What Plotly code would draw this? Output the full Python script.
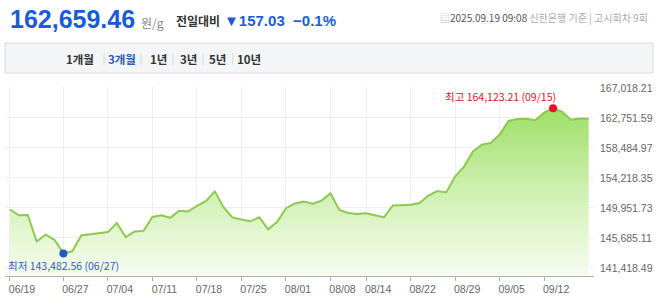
import plotly.graph_objects as go

# ---- data ----
dates = ["06/19", "06/20", "06/23", "06/24", "06/25", "06/26", "06/27", "06/30",
         "07/01", "07/02", "07/03", "07/04", "07/07", "07/08", "07/09", "07/10", "07/11",
         "07/14", "07/15", "07/16", "07/17", "07/18", "07/21", "07/22", "07/23", "07/24", "07/25",
         "07/28", "07/29", "07/30", "07/31", "08/01", "08/04", "08/05", "08/06", "08/07", "08/08",
         "08/11", "08/12", "08/13", "08/14", "08/18", "08/19", "08/20", "08/21", "08/22",
         "08/25", "08/26", "08/27", "08/28", "08/29", "09/01", "09/02", "09/03", "09/04", "09/05",
         "09/08", "09/09", "09/10", "09/11", "09/12", "09/15", "09/16", "09/17", "09/18", "09/19"]
prices = [149730, 148912, 148955, 145181, 146142, 145425, 143482.56, 143789,
          146042, 146185, 146329, 146516, 147807, 145798, 146616, 146688, 148668,
          148912, 148553, 149558, 149443, 150247, 150921, 152313, 150017, 148582, 148295,
          148051, 148625, 146903, 147951, 149916, 150591, 150849, 150562, 150993, 152026,
          149673, 149242, 149084, 149199, 148912, 148625, 150304, 150347, 150419,
          150663, 151710, 152356, 152169, 154408, 155843, 157996, 158957, 159201, 160392,
          162329, 162616, 162645, 162444, 163506, 164123.21, 163649, 162501, 162688, 162659.46]
x_ticks = ["06/19", "06/27", "07/04", "07/11", "07/18", "07/25", "08/01", "08/08",
           "08/14", "08/22", "08/29", "09/05", "09/12"]
y_ticks = [141418.49, 145685.11, 149951.73, 154218.35, 158484.97, 162751.59, 167018.21]
y_range = [140270, 167160]

W, H = 658, 307
L, R, T, B = 5, 64, 87, 31
PW, PH = W - L - R, H - T - B


def px(x):
    return (x - L) / PW


def py(y):
    return 1 - (y - T) / PH


imax = prices.index(max(prices))
imin = prices.index(min(prices))

KR = "Noto Sans CJK KR"
AR = "Liberation Sans, Arial"

fig = go.Figure()
fig.add_trace(go.Scatter(
    x=dates, y=prices, mode="lines",
    line=dict(color="#8dc94f", width=2),
    fill="tozeroy",
    fillgradient=dict(type="vertical", start=y_range[0], stop=max(prices),
                      colorscale=[[0, "#f6fcf0"], [0.5, "#d0f0b2"], [1, "#9edf66"]]),
    hoverinfo="skip", showlegend=False))
fig.add_trace(go.Scatter(x=[dates[imax]], y=[prices[imax]], mode="markers",
                         marker=dict(color="#e8102a", size=8), showlegend=False))
fig.add_trace(go.Scatter(x=[dates[imin]], y=[prices[imin]], mode="markers",
                         marker=dict(color="#1d5bbf", size=8), showlegend=False))

ann = []
ann.append(dict(x=dates[imax], y=prices[imax], xref="x", yref="y", xanchor="right", yanchor="middle",
                xshift=5, yshift=12, showarrow=False,
                text=f"최고 {prices[imax]:,.2f} ({dates[imax]})",
                font=dict(family=KR, size=10.5, color="#d8172b")))
ann.append(dict(x=dates[imin], y=prices[imin], xref="x", yref="y", xanchor="center", yanchor="middle",
                yshift=-12, showarrow=False,
                text=f"최저 {prices[imin]:,.2f} ({dates[imin]})",
                font=dict(family=KR, size=10.5, color="#2a62b8")))

# header
ann.append(dict(x=px(8), y=py(19), xref="paper", yref="paper", xanchor="left", yanchor="middle",
                showarrow=False, text="<b>162,659.46</b>",
                font=dict(family=AR, size=25, color="#1a5cd6")))
ann.append(dict(x=px(139), y=py(22), xref="paper", yref="paper", xanchor="left", yanchor="middle",
                showarrow=False, text="원/g", font=dict(family=KR, size=12, color="#888")))
ann.append(dict(x=px(174), y=py(20), xref="paper", yref="paper", xanchor="left", yanchor="middle",
                showarrow=False, text="<b>전일대비</b>", font=dict(family=KR, size=12, color="#333")))
ann.append(dict(x=px(222), y=py(20), xref="paper", yref="paper", xanchor="left", yanchor="middle",
                showarrow=False, text="<b>▼157.03  −0.1%</b>",
                font=dict(family=AR, size=15, color="#1a5cd6")))
ann.append(dict(x=px(650), y=py(17), xref="paper", yref="paper", xanchor="right", yanchor="middle",
                showarrow=False,
                text="<span style='color:#bbb'>▤</span>2025.09.19 09:08 "
                     "<span style='color:#aaa'>신한은행 기준 | 고시회차 9회</span>",
                font=dict(family=KR, size=10, color="#555")))

# tab bar
shapes = [dict(type="rect", xref="paper", yref="paper", x0=px(5), x1=px(653), y0=py(73), y1=py(43),
               fillcolor="#f4f5f7", line=dict(color="#d9dadd", width=1), layer="below")]
tabs = [("1개월", 80, "#333"), ("3개월", 122, "#2e5bb5"), ("1년", 158, "#333"),
        ("3년", 188, "#333"), ("5년", 217, "#333"), ("10년", 249, "#333")]
for t, cx, c in tabs:
    ann.append(dict(x=px(cx), y=py(59), xref="paper", yref="paper", xanchor="center", yanchor="middle",
                    showarrow=False, text=f"<b>{t}</b>", font=dict(family=KR, size=11.5, color=c)))
for sx in [104, 141, 173, 203, 233]:
    shapes.append(dict(type="line", xref="paper", yref="paper", x0=px(sx), x1=px(sx),
                       y0=py(53), y1=py(65), line=dict(color="#d6d7da", width=1)))

fig.update_layout(
    width=W, height=H, margin=dict(l=L, r=R, t=T, b=B, autoexpand=False),
    paper_bgcolor="white", plot_bgcolor="white",
    annotations=ann, shapes=shapes, showlegend=False,
    xaxis=dict(type="category", categoryorder="array", categoryarray=dates,
               range=[-0.56, len(dates) - 1 + 0.6], automargin=False,
               tickmode="array", tickvals=x_ticks, ticktext=x_ticks,
               showgrid=True, gridcolor="#eeeeee", gridwidth=1,
               showline=True, linecolor="#b0b0b0", linewidth=1,
               ticks="outside", ticklen=4, tickcolor="#b0b0b0",
               ticklabelshift=12, ticklabelstandoff=-1,
               tickfont=dict(family=AR, size=10.5, color="#666"), zeroline=False),
    yaxis=dict(range=y_range, side="right", tickmode="array", tickvals=y_ticks,
               ticktext=[f"{v:,.2f}" for v in y_ticks], automargin=False,
               showgrid=True, gridcolor="#eeeeee", gridwidth=1, zeroline=False,
               showline=False, ticks="", ticklabelstandoff=5,
               tickfont=dict(family=AR, size=10.5, color="#666")),
)

fig.write_html("out.html")
